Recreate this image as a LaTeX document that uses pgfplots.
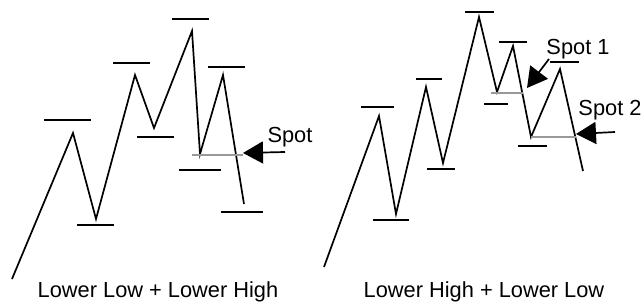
\documentclass[border=0pt]{standalone}
\usepackage{fontspec}
\setmainfont{Liberation Sans}
\usepackage{pgfplots}
\pgfplotsset{compat=1.18}
\usetikzlibrary{arrows.meta}
\tikzset{L/.style={black, solid, no marks, line width=0.85pt},
  G/.style={color=black!40, solid, no marks, line width=0.85pt},
  A/.style={black, solid, no marks, line width=0.85pt, -{Triangle[length=10pt,width=11pt]}}}
\begin{document}
\begin{tikzpicture}
\begin{axis}[
  scale only axis, width=321pt, height=151.5pt,
  xmin=0, xmax=642, ymin=0, ymax=303, y dir=reverse,
  hide axis, clip=false,
]
\path (rel axis cs:0,0) rectangle (rel axis cs:1,1);
% ---- left panel zigzag
\addplot[L] coordinates {(12,279) (73,133) (96,219) (135,75) (154,128) (192,31) (200,154) (223,75) (244,204)};
% left level bars
\addplot[L] coordinates {(44,120) (91,120)};
\addplot[L] coordinates {(77,225) (114,225)};
\addplot[L] coordinates {(113,63) (150,63)};
\addplot[L] coordinates {(137,137) (174,137)};
\addplot[L] coordinates {(172,19) (209,19)};
\addplot[L] coordinates {(208,67) (245,67)};
\addplot[L] coordinates {(179,170) (221,170)};
\addplot[L] coordinates {(221,212) (263,212)};
\addplot[G] coordinates {(192,155) (243,155)};
\addplot[A] coordinates {(285,152) (243,153)};
% ---- right panel zigzag
\addplot[L] coordinates {(324,267) (379,116) (396,214) (426,87) (443,163) (479,17) (497,92) (513,46) (531,137) (560,69) (583,171)};
\addplot[L] coordinates {(361,107) (394,107)};
\addplot[L] coordinates {(373,220) (409,220)};
\addplot[L] coordinates {(416,79) (442,79)};
\addplot[L] coordinates {(427,169) (455,169)};
\addplot[L] coordinates {(465,12) (494,12)};
\addplot[L] coordinates {(499,42) (527,42)};
\addplot[L] coordinates {(484,104) (508,104)};
\addplot[L, line width=1.2pt] coordinates {(550,62) (579,62)};
\addplot[L] coordinates {(518,146) (547,146)};
\addplot[G] coordinates {(491,93) (523,93)};
\addplot[G] coordinates {(531,137) (576,137)};
\addplot[A] coordinates {(549,59) (527,88)};
\addplot[A] coordinates {(615,132) (576,134)};
% ---- texts
\node[anchor=base, inner sep=0pt, font=\fontsize{10.9}{13}\selectfont] at (axis cs:290,143) {Spot};
\node[anchor=base, inner sep=0pt, font=\fontsize{10.9}{13}\selectfont] at (axis cs:578,55) {Spot 1};
\node[anchor=base, inner sep=0pt, font=\fontsize{10.9}{13}\selectfont] at (axis cs:610,116) {Spot 2};
\node[anchor=base, inner sep=0pt, font=\fontsize{10.9}{13}\selectfont] at (axis cs:158,298) {Lower Low + Lower High};
\node[anchor=base, inner sep=0pt, font=\fontsize{10.9}{13}\selectfont] at (axis cs:484,298) {Lower High + Lower Low};
\end{axis}
\end{tikzpicture}
\end{document}
